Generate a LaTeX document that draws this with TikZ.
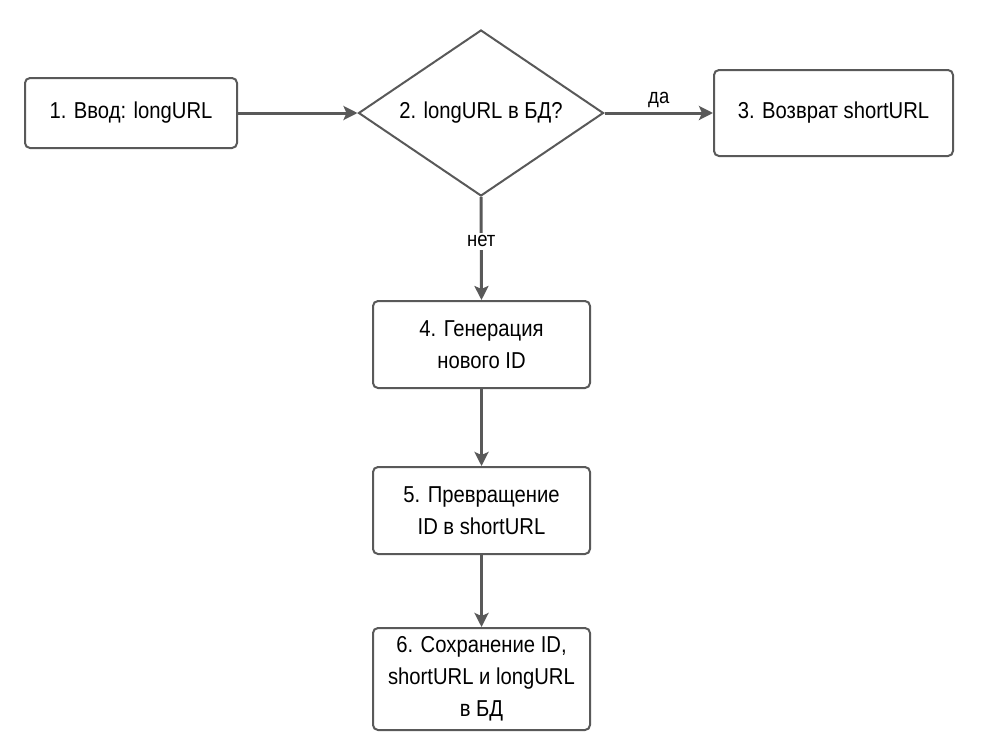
\documentclass[tikz,border=0pt]{standalone}
\usepackage{fontspec}
\setmainfont{Liberation Sans}[FakeStretch=0.88]
\usetikzlibrary{shapes.geometric,arrows.meta}
\definecolor{lc}{HTML}{595959}
\begin{document}
\begin{tikzpicture}[x=1pt,y=-1pt,
  every node/.style={font=\fontsize{23}{32}\selectfont, text=black},
  box/.style={draw=lc, line width=2pt, rounded corners=5pt, align=center, inner sep=0pt},
  conn/.style={draw=lc, line width=3pt, -{Stealth[length=14pt,width=14pt,inset=3pt]}},
  lblf/.style={font=\fontsize{21}{24}\selectfont},
  lbl/.style={fill=white, inner sep=3pt, lblf}]
\useasboundingbox (0,0) rectangle (982,745);
\node[box, minimum width=212pt, minimum height=70pt] (b1) at (131,113) {1. Ввод: longURL};
\node[draw=lc, line width=2pt, diamond, minimum width=245pt, minimum height=166pt, inner sep=0pt, aspect=1.47] (d) at (481,113) {2. longURL в БД?};
\node[box, minimum width=239pt, minimum height=86pt] (b3) at (833.5,113) {3. Возврат shortURL};
\node[box, minimum width=217pt, minimum height=87pt] (b4) at (481.5,344.5) {4. Генерация\\нового ID};
\node[box, minimum width=217pt, minimum height=87pt] (b5) at (481.5,510.5) {5. Превращение\\ID в shortURL};
\node[box, minimum width=217pt, minimum height=102pt] (b6) at (481.5,679) {6. Сохранение ID,\\shortURL и longURL\\в БД};
\draw[conn] (b1.east) -- (d.west);
\draw[conn] (d.east) -- node[above, lblf, yshift=0pt] {да} (b3.west |- d.east);
\draw[conn] (d.south) -- node[lbl, pos=0.43] {нет} (b4.north);
\draw[conn] (b4.south) -- (b5.north);
\draw[conn] (b5.south) -- (b6.north);
\end{tikzpicture}
\end{document}
